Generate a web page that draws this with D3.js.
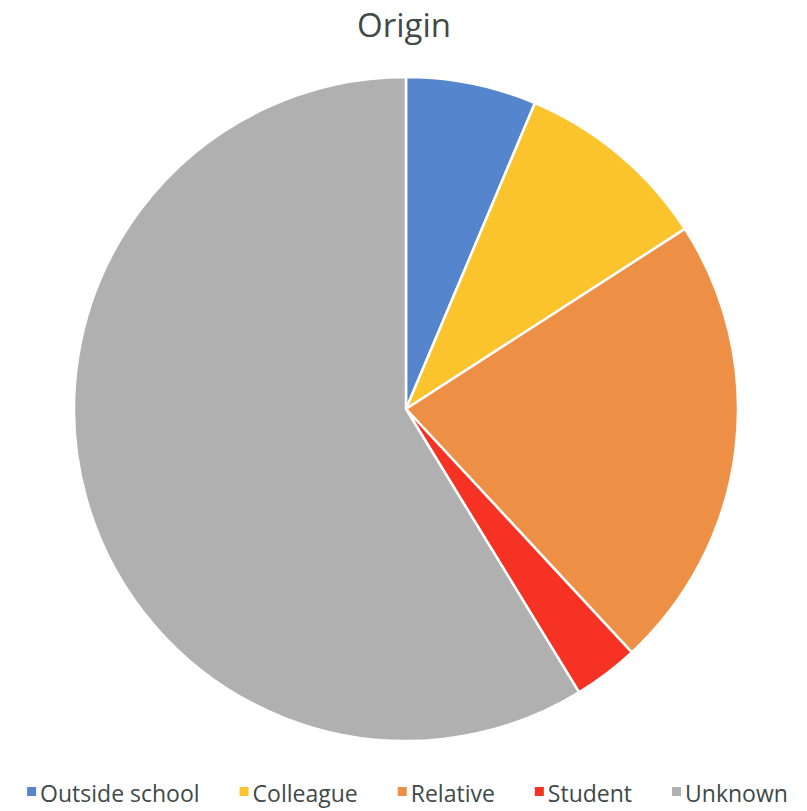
<!DOCTYPE html>
<html>
<head>
<meta charset="utf-8">
<script src="https://cdn.jsdelivr.net/npm/d3@7"></script>
<style>
  html, body { margin: 0; padding: 0; background: #fff; }
  svg { display: block; }
</style>
</head>
<body>
<svg id="chart" width="807" height="811"></svg>
<script>
// Respondent origin counts
const categories = ["Outside school", "Colleague", "Relative", "Student", "Unknown"];
const values = [4, 6, 14, 2, 37];
const colors = ["#5585cc", "#fcc42c", "#ee8f46", "#f53224", "#b0b0b0"];
const title = "Origin";

const svg = d3.select("#chart");
const W = 807;
const cx = 406, cy = 409, r = 332;
const font = "'Open Sans', 'Noto Sans', sans-serif";

svg.append("text")
  .attr("x", 404)
  .attr("y", 37)
  .attr("text-anchor", "middle")
  .attr("font-family", font)
  .attr("font-size", 33)
  .attr("fill", "#404a46")
  .text(title);

const pie = d3.pie().sort(null).value(d => d.value);
const arc = d3.arc().innerRadius(0).outerRadius(r);
const data = categories.map((c, i) => ({ name: c, value: values[i], color: colors[i] }));

const g = svg.append("g").attr("transform", `translate(${cx},${cy})`);
g.selectAll("path")
  .data(pie(data))
  .join("path")
  .attr("d", arc)
  .attr("fill", d => d.data.color)
  .attr("stroke", "#fff")
  .attr("stroke-width", 2.5)
  .attr("stroke-linejoin", "round");

// Legend, laid out horizontally and centred
const legend = svg.append("g");
const fs = 23, sw = 9, gapSwatch = 4, gapItem = 40, baseline = 802;
const items = legend.selectAll("g").data(data).join("g");
items.append("rect")
  .attr("width", sw).attr("height", sw)
  .attr("y", baseline - 15)
  .attr("fill", d => d.color);
items.append("text")
  .attr("x", sw + gapSwatch)
  .attr("y", baseline)
  .attr("font-family", font)
  .attr("font-size", fs)
  .attr("fill", "#404a46")
  .text(d => d.name);
let widths = [];
items.each(function () {
  widths.push(d3.select(this).select("text").node().getComputedTextLength() + sw + gapSwatch);
});
const total = widths.reduce((a, b) => a + b, 0) + gapItem * (widths.length - 1);
let x = (W - total) / 2 + 4;
items.each(function (d, i) {
  d3.select(this).attr("transform", `translate(${x},0)`);
  x += widths[i] + gapItem;
});
</script>
</body>
</html>
